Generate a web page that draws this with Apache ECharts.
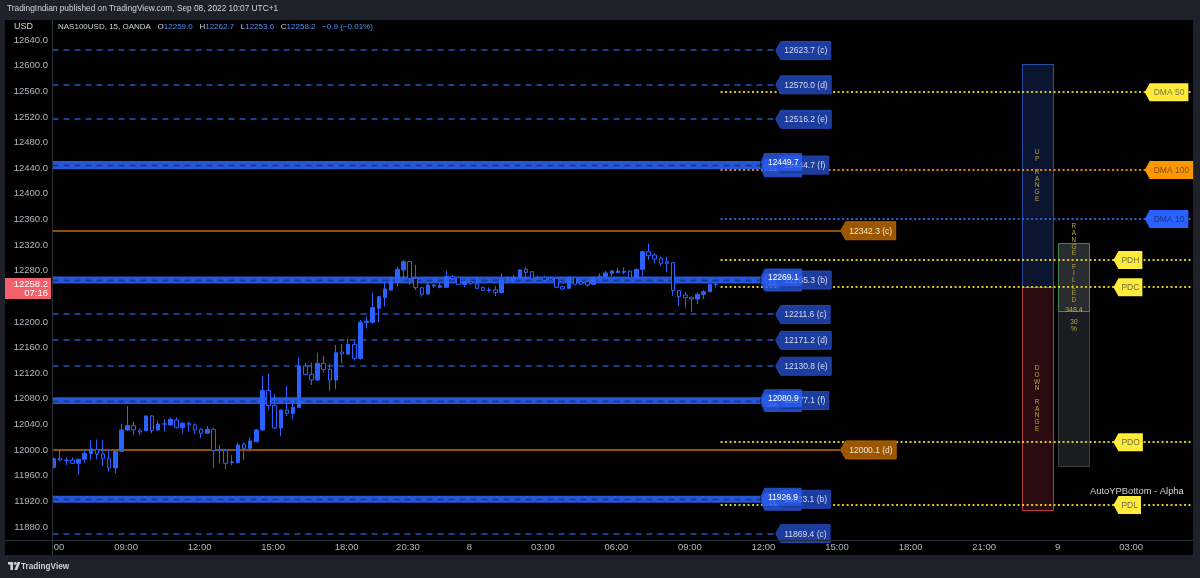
<!DOCTYPE html>
<html><head><meta charset="utf-8">
<script src="https://cdn.jsdelivr.net/npm/echarts@6/dist/echarts.min.js"></script>
<style>html,body{margin:0;padding:0;background:#1e2129;}#c{width:1200px;height:578px;}</style>
</head><body><div id="c"></div>
<script>
// ---------------- DATA ----------------
const opens = [11973.0,11987.0,11984.4,11984.4,11979.2,11985.5,11994.3,12001.0,11993.8,11986.5,11972.0,11997.9,12031.3,12038.0,12030.0,12030.2,12053.1,12031.3,12040.4,12039.1,12046.9,12035.4,12041.7,12039.1,12032.3,12026.1,12032.3,11999.0,11999.0,11981.5,11980.3,12008.9,12002.6,12013.0,12031.3,12093.1,12069.7,12034.3,12062.4,12057.2,12066.6,12131.1,12118.1,12109.3,12135.3,12125.9,12109.3,12153.0,12150.0,12164.9,12143.1,12199.3,12199.3,12221.2,12238.3,12249.7,12261.7,12281.0,12294.0,12268.0,12253.4,12243.5,12257.6,12254.0,12254.0,12270.6,12269.0,12258.6,12262.8,12260.2,12253.9,12250.0,12249.8,12245.6,12264.8,12264.3,12268.0,12282.0,12278.4,12268.0,12269.0,12268.0,12268.0,12255.0,12252.4,12269.0,12262.8,12262.8,12258.6,12269.5,12270.6,12275.8,12276.8,12277.3,12279.4,12269.0,12282.0,12309.6,12304.4,12299.2,12294.0,12292.4,12248.7,12241.9,12238.3,12235.7,12243.0,12247.1,12259.0];
const highs = [11988.0,12001.0,11988.6,11988.6,11986.5,11999.9,12015.6,12016.6,12015.6,11999.9,11999.0,12040.6,12068.7,12044.3,12033.0,12053.6,12054.7,12045.8,12047.9,12051.0,12051.0,12043.7,12044.3,12041.7,12033.9,12037.5,12034.9,12007.8,11999.5,11992.0,12011.5,12011.5,12019.3,12032.3,12116.0,12119.7,12087.4,12063.0,12099.9,12080.6,12144.1,12136.3,12136.3,12151.9,12146.7,12135.3,12163.9,12165.5,12174.3,12171.7,12202.9,12208.1,12246.1,12240.4,12262.8,12270.6,12286.2,12296.6,12295.0,12288.8,12255.0,12260.2,12258.6,12260.2,12279.9,12273.2,12269.5,12263.8,12263.8,12270.6,12255.0,12253.9,12256.5,12275.8,12270.6,12273.2,12282.0,12286.2,12279.4,12272.1,12272.1,12270.6,12269.0,12256.5,12270.6,12270.6,12268.0,12265.4,12270.6,12275.8,12279.4,12281.0,12284.6,12285.1,12280.4,12283.0,12310.6,12322.6,12307.0,12301.8,12301.8,12293.0,12249.8,12246.1,12239.3,12246.1,12249.8,12260.2,12262.7];
const lows = [11971.0,11981.8,11976.6,11978.0,11962.0,11980.3,11984.4,11985.5,11975.0,11966.2,11963.6,11997.0,12030.2,12023.4,12023.0,12029.7,12026.1,12030.2,12028.6,12038.0,12033.3,12026.1,12028.6,12025.0,12018.3,12025.6,11971.4,11979.2,11969.9,11976.6,11979.2,11984.4,11997.4,12012.0,12030.0,12063.5,12032.8,12021.8,12053.1,12047.9,12065.0,12116.5,12101.5,12108.0,12120.7,12092.6,12094.7,12135.3,12148.3,12139.4,12141.0,12189.9,12197.7,12199.3,12223.7,12248.7,12255.0,12265.4,12257.6,12249.8,12239.3,12243.0,12253.4,12252.4,12253.4,12265.4,12257.6,12253.9,12257.6,12251.3,12248.0,12246.1,12240.4,12244.6,12260.2,12262.8,12266.9,12265.4,12266.9,12265.4,12264.3,12264.3,12252.4,12249.8,12251.3,12257.6,12257.6,12255.0,12257.6,12266.9,12269.5,12272.1,12275.8,12274.2,12268.0,12268.0,12270.6,12296.6,12291.4,12287.7,12277.3,12240.9,12224.8,12222.2,12215.9,12227.9,12235.7,12246.1,12253.6];
const closes = [11986.5,11984.4,11983.4,11979.2,11985.5,11994.8,12001.6,11993.8,11986.5,11972.0,11997.9,12031.3,12038.0,12031.3,12028.0,12053.1,12030.2,12040.6,12040.7,12047.9,12035.4,12041.7,12039.1,12031.3,12026.1,12032.3,11999.0,12000.0,11979.2,11980.5,12007.8,12002.6,12014.1,12031.3,12093.0,12069.7,12034.3,12062.4,12057.2,12066.6,12131.1,12118.1,12109.3,12135.3,12125.9,12109.3,12151.9,12150.0,12164.9,12143.1,12199.3,12201.0,12222.2,12239.3,12251.3,12262.8,12282.0,12294.0,12268.0,12253.4,12243.0,12257.6,12256.0,12256.5,12270.6,12268.0,12258.6,12262.8,12260.2,12252.4,12248.7,12249.0,12245.6,12264.8,12265.4,12269.0,12281.0,12277.3,12268.0,12268.5,12265.4,12265.4,12253.9,12251.3,12269.0,12258.6,12259.1,12257.6,12269.5,12270.6,12276.3,12279.4,12279.4,12279.0,12269.0,12282.0,12309.6,12303.3,12298.1,12291.4,12291.4,12248.7,12239.3,12237.8,12235.7,12243.0,12247.1,12258.6,12258.2];

const timeTickSlots  = [0, 12, 24, 36, 48, 58, 68, 80, 92, 104, 116, 128, 140, 152, 164, 176];
const timeTickLabels = ['06:00','09:00','12:00','15:00','18:00','20:30','8','03:00','06:00','09:00','12:00','15:00','18:00','21:00','9','03:00'];

const dashLevels = [12623.7, 12570.0, 12516.2, 12211.6, 12171.2, 12130.8, 11869.4];
const dashTags   = ['(c)', '(d)', '(e)', '(c)', '(d)', '(e)', '(c)'];
const bandTop    = [12449.7, 12269.1, 12080.9, 11926.9];
const bandMid    = [12444.7, 12265.3, 12077.1, 11923.1];
const bandBottom = [12439.7, 12261.5, 12073.3, 11919.3];
const bandTags   = ['(f)', '(b)', '(f)', '(b)'];
const orangeLevels = [12342.3, 12000.1];
const orangeTags   = ['(c)', '(d)'];
const dmaNames  = ['DMA 50', 'DMA 100', 'DMA 10'];
const dmaValues = [12558.5, 12437.0, 12360.5];
const dayNames  = ['PDH', 'PDC', 'PDO', 'PDL'];
const dayValues = [12296.6, 12254.2, 12012.0, 11914.0];
const upRange     = [12254.2, 12602.6];
const downRange   = [11905.8, 12254.2];
const filledRange = [11974.2, 12322.6];
const todayRange  = [12215.9, 12322.6];
const rangeSize = 348.4;
const rangePct = 30;
const lastPrice = 12258.2;
const countdown = '07:16';
const changeText = '\u22120.9 (\u22120.01%)';

// ---------------- HELPERS ----------------
const FONT = '"Liberation Sans", Arial, sans-serif';
const chart = echarts.init(document.getElementById('c'), null, {renderer: 'canvas'});
const mctx = document.createElement('canvas').getContext('2d');
function textW(t, size) { mctx.font = size + 'px ' + FONT; return mctx.measureText(t).width; }

function tag(x, y, text, s) {
  const w = textW(text, s.size) + s.pad * 2, a = s.arrow, h = s.h;
  return {type: 'group', children: [
    {type: 'polygon', shape: {points: [[x, y], [x + a, y - h / 2], [x + a + w, y - h / 2], [x + a + w, y + h / 2], [x + a, y + h / 2]]},
     style: {fill: s.bg, stroke: s.stroke || null, lineWidth: 1, opacity: s.opacity == null ? 1 : s.opacity}},
    {type: 'text', x: x + a + s.pad, y: y + 0.5,
     style: {text: text, fill: s.fg, font: s.size + 'px ' + FONT, align: 'left', verticalAlign: 'middle', opacity: s.textOpacity == null ? 1 : s.textOpacity}}
  ]};
}
function tagSeries(xs, vals, texts, style, z) {
  return {type: 'custom', coordinateSystem: 'cartesian2d', z: z, silent: true, clip: false,
    encode: {x: 0, y: 1}, data: vals.map((v, i) => [xs[i], v]),
    renderItem: (p, api) => { const c = api.coord([api.value(0), api.value(1)]); return tag(c[0], c[1], texts[p.dataIndex], style); }};
}
function hlineSeries(x1, x2, vals, style, z) {
  return {type: 'custom', coordinateSystem: 'cartesian2d', z: z, silent: true, clip: true,
    encode: {x: [0, 1], y: 2}, data: vals.map(v => [x1, x2, v]),
    renderItem: (p, api) => {
      const a = api.coord([api.value(0), api.value(2)]), b = api.coord([api.value(1), api.value(2)]);
      const y = Math.round(a[1]) + (style.lineWidth % 2 ? 0.5 : 0);
      return {type: 'line', shape: {x1: a[0], y1: y, x2: b[0], y2: y}, style: Object.assign({fill: null}, style)};
    }};
}
const rep = (n, v) => Array.from({length: n}, () => v);

// slot positions (layout)
const X_END = 186, DASH_END = 118, BAND_END = 115.5, ORANGE_END = 128.6, DOT_START = 109;
const DMA_TIP = 178.2, DAY_TIP = 173.1, CANDLE_SHIFT = 0.25;
const UP_X = [158.1, 163.2], FILL_X = [164.1, 169.2];

const candleData = opens.map((o, i) => [i + CANDLE_SHIFT, o, closes[i], lows[i], highs[i]]);
const BLUE = '#2962ff';

const series = [];
// range boxes
series.push({type: 'custom', coordinateSystem: 'cartesian2d', z: 2, silent: true, clip: false,
  encode: {x: [0, 1], y: [2, 3]},
  data: [[UP_X[0], UP_X[1], upRange[1], upRange[0]], [UP_X[0], UP_X[1], downRange[1], downRange[0]],
         [FILL_X[0], FILL_X[1], filledRange[1], filledRange[0]], [FILL_X[0], FILL_X[1], todayRange[1], todayRange[0]]],
  renderItem: (p, api) => {
    const a = api.coord([api.value(0), api.value(2)]), b = api.coord([api.value(1), api.value(3)]);
    const st = [
      {fill: '#0b1530', stroke: '#2a4ea6'},
      {fill: '#2a0c10', stroke: '#b53a3c'},
      {fill: '#1b1d20', stroke: '#3a3d42'},
      {fill: '#2a2d30', stroke: '#3f8a48'}][p.dataIndex];
    const x = Math.round(a[0]) + 0.5, y = Math.round(a[1]) + 0.5, w = Math.round(b[0] - a[0]), h = Math.round(b[1] - a[1]);
    const cx = (a[0] + b[0]) / 2, cy = (a[1] + b[1]) / 2;
    const children = [{type: 'rect', shape: {x: x, y: y, width: w, height: h}, style: {fill: st.fill, stroke: st.stroke, lineWidth: 1}}];
    const vt = (t, px, py, va) => ({type: 'text', x: px, y: py, style: {text: t, fill: '#b8a84a', font: '6.5px ' + FONT, align: 'center', verticalAlign: va, lineHeight: 6.7}});
    if (p.dataIndex === 0) children.push(vt('U\nP\n\nR\nA\nN\nG\nE', cx, cy, 'middle'));
    if (p.dataIndex === 1) children.push(vt('D\nO\nW\nN\n\nR\nA\nN\nG\nE', cx, cy, 'middle'));
    if (p.dataIndex === 3) {
      children.push(vt('R\nA\nN\nG\nE\n\nF\nI\nL\nL\nE\nD', cx, b[1] - 8, 'bottom'));
      children.push({type: 'text', x: cx, y: b[1] - 2, style: {text: rangeSize.toFixed(1), fill: '#b8a84a', font: '7px ' + FONT, align: 'center', verticalAlign: 'middle'}});
      children.push(vt(rangePct + '\n%', cx, b[1] + 14, 'middle'));
    }
    return {type: 'group', children: children};
  }});

// dashed blue levels
series.push(hlineSeries(0, DASH_END, dashLevels, {stroke: '#1d3d8f', lineWidth: 2, lineDash: [6, 5]}, 3));
// bands
series.push({type: 'custom', coordinateSystem: 'cartesian2d', z: 3, silent: true, clip: true,
  encode: {x: [0, 1], y: [2, 3, 4]}, data: bandTop.map((t, i) => [0, BAND_END, t, bandMid[i], bandBottom[i]]),
  renderItem: (p, api) => {
    const a = api.coord([api.value(0), api.value(2)]), b = api.coord([api.value(1), api.value(4)]);
    const m = api.coord([0, api.value(3)]);
    const my = Math.round(m[1]) + 0.5;
    return {type: 'group', children: [
      {type: 'rect', shape: {x: a[0], y: a[1] - 1, width: b[0] - a[0], height: b[1] - a[1] + 2}, style: {fill: '#2656d9'}},
      {type: 'line', shape: {x1: a[0], y1: my, x2: b[0], y2: my}, style: {stroke: '#163a98', lineWidth: 2, lineDash: [6, 5]}}
    ]};
  }});
// orange solid levels
series.push(hlineSeries(0, ORANGE_END, orangeLevels, {stroke: '#8f4f06', lineWidth: 2}, 3));
// dotted reference lines
series.push(hlineSeries(DOT_START, X_END, [dmaValues[0]].concat(dayValues), {stroke: '#d8c814', lineWidth: 2, lineDash: [2, 2.5]}, 4));
series.push(hlineSeries(DOT_START, X_END, [dmaValues[1]], {stroke: '#e08a00', lineWidth: 2, lineDash: [2, 2.5]}, 4));
series.push(hlineSeries(DOT_START, X_END, [dmaValues[2]], {stroke: '#2f5fe0', lineWidth: 2, lineDash: [2, 2.5]}, 4));

// candles
series.push({type: 'candlestick', z: 5, data: candleData, encode: {x: 0, y: [1, 2, 3, 4]}, barWidth: 4, clip: true, silent: true,
  itemStyle: {color: BLUE, color0: '#000000', borderColor: BLUE, borderColor0: BLUE, borderWidth: 1}});

// labels
const LS = 8.5;
const darkTag = {bg: '#1c3c9e', stroke: '#2547b0', fg: '#d6dcf0', size: LS, h: 18, pad: 3.5, arrow: 5};
const brightTag = {bg: '#2a5ff2', fg: '#ffffff', size: LS, h: 18, pad: 3.5, arrow: 4, opacity: 0.78};
series.push(tagSeries(rep(dashLevels.length, DASH_END), dashLevels, dashLevels.map((v, i) => v.toFixed(1) + ' ' + dashTags[i]), darkTag, 6));
series.push(tagSeries(rep(bandBottom.length, BAND_END), bandBottom, bandBottom.map(v => v.toFixed(1)), Object.assign({}, brightTag, {textOpacity: 0.6}), 6));
series.push(tagSeries(rep(bandMid.length, DASH_END), bandMid, bandMid.map((v, i) => v.toFixed(1) + ' ' + bandTags[i]), darkTag, 7));
series.push(tagSeries(rep(bandTop.length, BAND_END), bandTop, bandTop.map(v => v.toFixed(1)), brightTag, 8));
series.push(tagSeries(rep(orangeLevels.length, ORANGE_END), orangeLevels, orangeLevels.map((v, i) => v.toFixed(1) + ' ' + orangeTags[i]),
  {bg: '#9c5600', stroke: '#b06400', fg: '#f2e6d2', size: LS, h: 18, pad: 3.5, arrow: 5}, 6));
const dmaStyles = [
  {bg: '#ffeb3b', fg: '#7a7343', size: LS, h: 18, pad: 4, arrow: 5},
  {bg: '#ff9800', fg: '#7a4f1c', size: LS, h: 18, pad: 4, arrow: 5},
  {bg: '#2962ff', fg: '#1a3578', size: LS, h: 18, pad: 4, arrow: 5}];
dmaNames.forEach((n, i) => series.push(tagSeries([DMA_TIP], [dmaValues[i]], [n], dmaStyles[i], 6)));
series.push(tagSeries(rep(dayNames.length, DAY_TIP), dayValues, dayNames, {bg: '#ffeb3b', fg: '#6e6a45', size: LS, h: 18, pad: 3, arrow: 5}, 6));

// last price label on the price axis
series.push({type: 'custom', coordinateSystem: 'cartesian2d', z: 9, silent: true, clip: false, encode: {x: 0, y: 1},
  data: [[0, lastPrice]],
  renderItem: (p, api) => {
    const c = api.coord([0, api.value(1)]);
    return {type: 'group', children: [
      {type: 'rect', shape: {x: 5, y: c[1] - 6.5, width: 46, height: 21}, style: {fill: '#f0616c'}},
      {type: 'text', x: 48, y: c[1] - 0.5, style: {text: lastPrice.toFixed(1), fill: '#ffffff', font: '9.5px ' + FONT, align: 'right', verticalAlign: 'middle'}},
      {type: 'text', x: 48, y: c[1] + 9, style: {text: countdown, fill: '#ffffff', font: '9.5px ' + FONT, align: 'right', verticalAlign: 'middle'}}
    ]};
  }});

// time axis labels
series.push({type: 'custom', coordinateSystem: 'cartesian2d', z: 4, silent: true, clip: true, encode: {x: 0, y: 1},
  data: timeTickSlots.map(s => [s, 11840]),
  renderItem: (p, api) => {
    const c = api.coord([api.value(0), api.value(1)]);
    return {type: 'text', x: c[0], y: c[1] - 5.5, style: {text: timeTickLabels[p.dataIndex], fill: '#b2b5be', font: '9.5px ' + FONT, align: 'center', verticalAlign: 'middle'}};
  }});

const legendRich = '{t|NAS100USD, 15, OANDA}  {t|O}{v|' + opens[opens.length - 1].toFixed(1) + '}  {t|H}{v|' + highs[highs.length - 1].toFixed(1) +
  '}  {t|L}{v|' + lows[lows.length - 1].toFixed(1) + '}  {t|C}{v|' + closes[closes.length - 1].toFixed(1) + '}  {v|' + changeText + '}';

chart.setOption({
  animation: false,
  backgroundColor: '#1e2129',
  grid: {left: 52.5, right: 7.5, top: 14.375, bottom: 25.5, containLabel: false},
  xAxis: {type: 'value', min: 0, max: X_END, show: false},
  yAxis: {type: 'value', min: 11840, max: 12680, interval: 40, position: 'left', scale: false,
    splitLine: {show: false}, axisLine: {show: false}, axisTick: {show: false},
    axisLabel: {color: '#b2b5be', fontSize: 9.5, fontFamily: FONT, margin: 4.5,
      formatter: v => (v < 11860 || v > 12660) ? '' : v.toFixed(1)}},
  graphic: [
    {type: 'rect', z: 0, silent: true, shape: {x: 5, y: 20, width: 1188, height: 535}, style: {fill: '#000000'}},
    {type: 'line', z: 50, silent: true, shape: {x1: 52.5, y1: 20, x2: 52.5, y2: 555}, style: {stroke: '#2a2e39', lineWidth: 1}},
    {type: 'line', z: 50, silent: true, shape: {x1: 5, y1: 540.5, x2: 1193, y2: 540.5}, style: {stroke: '#2a2e39', lineWidth: 1}},
    {type: 'text', z: 50, silent: true, x: 7, y: 9, style: {text: 'TradingIndian published on TradingView.com, Sep 08, 2022 10:07 UTC+1', fill: '#d1d4dc', font: '8.3px ' + FONT, verticalAlign: 'middle'}},
    {type: 'text', z: 50, silent: true, x: 14, y: 27, style: {text: 'USD', fill: '#d1d4dc', font: '9px ' + FONT, verticalAlign: 'middle'}},
    {type: 'text', z: 50, silent: true, x: 58, y: 27, style: {text: legendRich, verticalAlign: 'middle',
      rich: {t: {fill: '#d1d4dc', font: '8px ' + FONT}, v: {fill: '#4f8ff0', font: '8px ' + FONT}}}},
    {type: 'text', z: 50, silent: true, x: 1090, y: 491, style: {text: 'AutoYPBottom - Alpha', fill: '#d1d4dc', font: '9.4px ' + FONT, verticalAlign: 'middle'}},
    {type: 'rect', z: 50, silent: true, shape: {x: 8, y: 562, width: 5, height: 2.6}, style: {fill: '#d1d4dc'}},
    {type: 'rect', z: 50, silent: true, shape: {x: 10.4, y: 562, width: 2.6, height: 8}, style: {fill: '#d1d4dc'}},
    {type: 'circle', z: 50, silent: true, shape: {cx: 15.2, cy: 563.4, r: 1.4}, style: {fill: '#d1d4dc'}},
    {type: 'polygon', z: 50, silent: true, shape: {points: [[17.6, 562], [20.4, 562], [17.2, 570], [14.4, 570]]}, style: {fill: '#d1d4dc'}},
    {type: 'text', z: 50, silent: true, x: 21, y: 566.5, style: {text: 'TradingView', fill: '#d1d4dc', font: 'bold 8.2px ' + FONT, verticalAlign: 'middle'}}
  ],
  series: series
});
</script></body></html>
